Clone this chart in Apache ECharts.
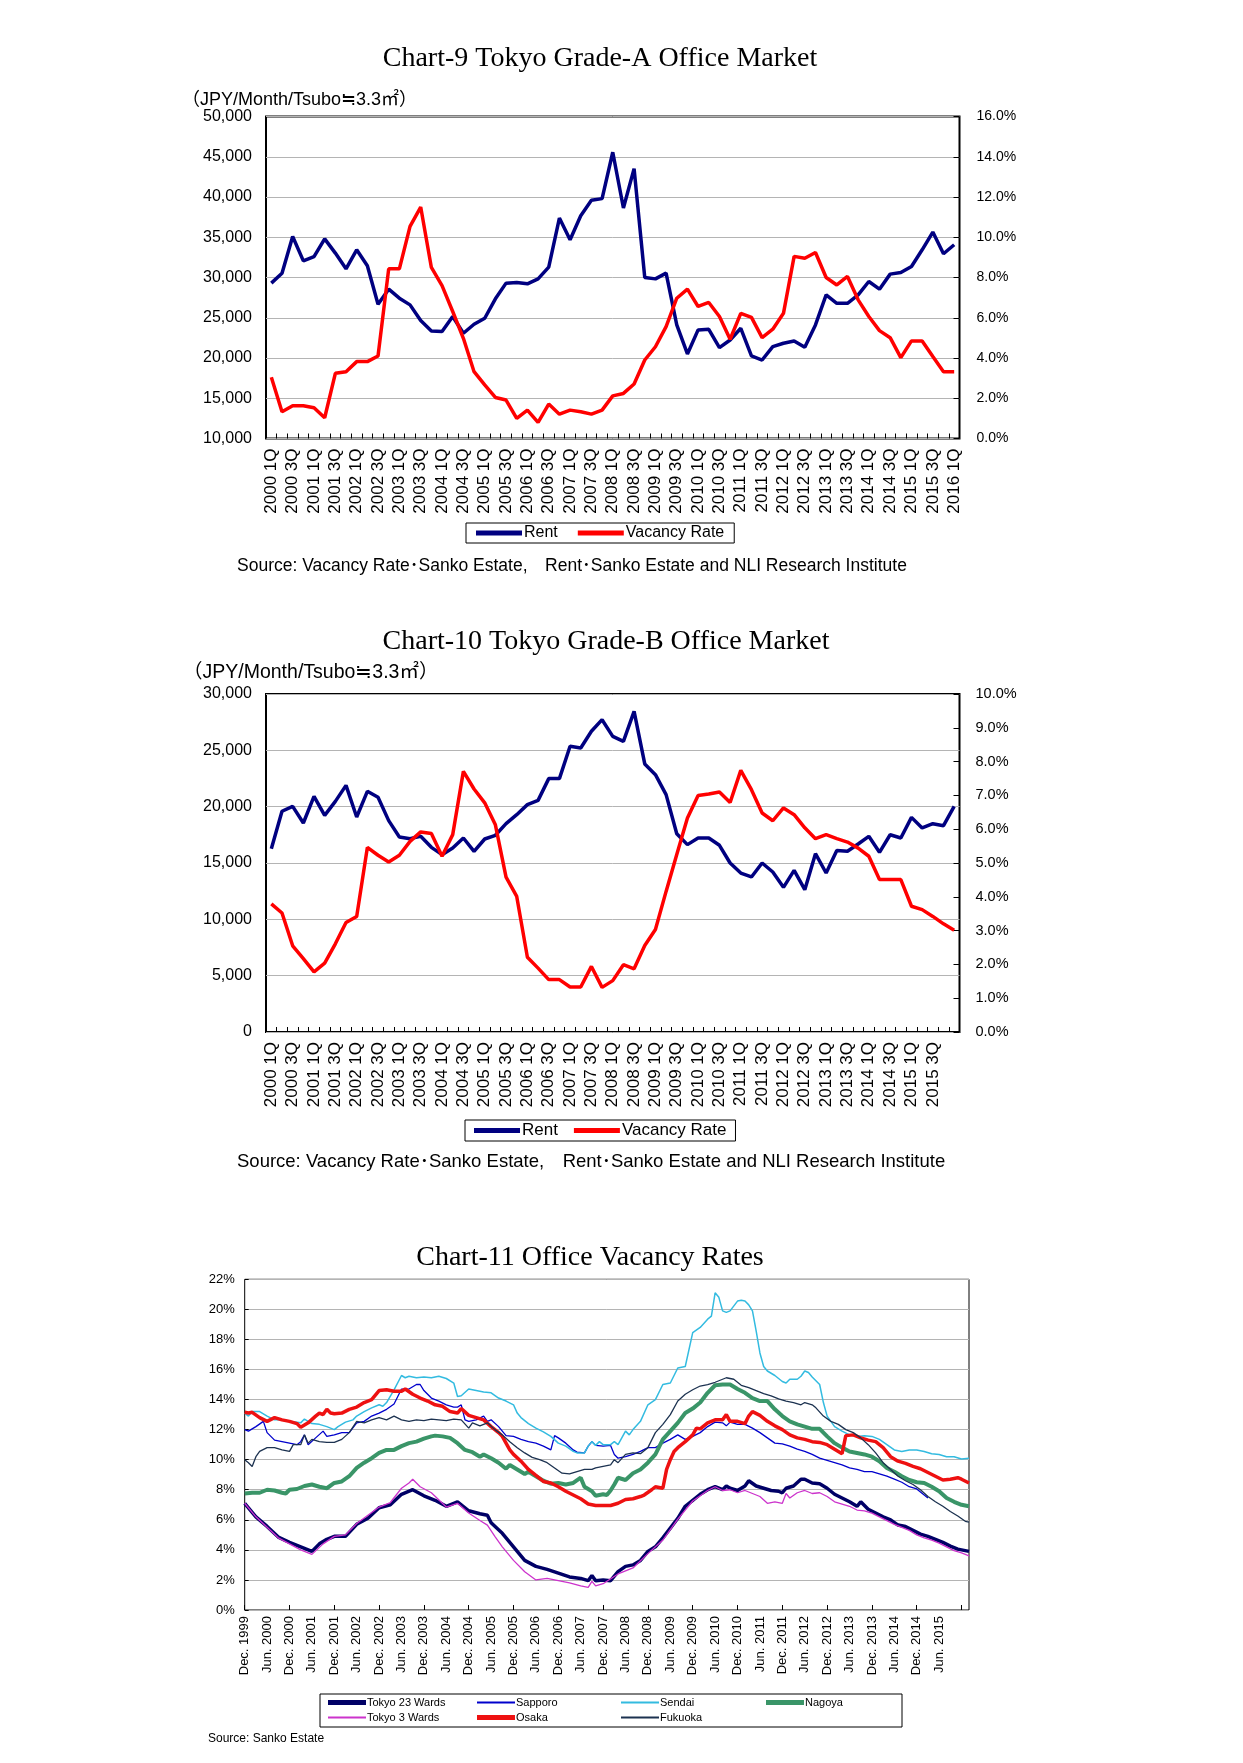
<!DOCTYPE html>
<html><head><meta charset="utf-8">
<script src="https://cdn.jsdelivr.net/npm/echarts@6/dist/echarts.min.js"></script>
<style>html,body{margin:0;padding:0;background:#fff}#c{width:1243px;height:1763px}</style>
</head><body><div id="c"></div>
<script>
// ---------- Chart-9 / Chart-10 : quarterly 2000 1Q .. 2016 1Q ----------
const quarters = [];
for (let y = 2000; y <= 2016; y++) for (let q = 1; q <= 4; q++) if (quarters.length < 65) quarters.push(y + ' ' + q + 'Q');

const rentA = [29300,30540,35100,32070,32600,34800,33030,31080,33440,31450,
  26680,28550,27430,26600,24650,23360,23280,25150,23070,24190,
  24940,27350,29300,29380,29210,29830,31290,37390,34690,37680,
  39590,39800,45560,38630,43530,30000,29830,30540,24110,20500,
  23490,23570,21290,22240,23690,20250,19750,21410,21830,22120,
  21330,24110,27840,26800,26800,27840,29500,28550,30420,30620,
  31370,33440,35640,32950,34070];
const vacancyA = [3.04,1.33,1.63,1.63,1.53,1.03,3.24,3.32,3.82,3.82,
  4.10,8.43,8.43,10.54,11.50,8.50,7.60,6.31,4.98,3.32,
  2.66,2.04,1.91,1.00,1.41,0.80,1.71,1.21,1.41,1.33,
  1.21,1.41,2.12,2.24,2.71,3.90,4.56,5.56,6.97,7.42,
  6.56,6.76,6.06,4.93,6.22,6.02,5.01,5.43,6.22,9.05,
  8.96,9.24,8.00,7.63,8.05,6.89,6.06,5.36,5.01,4.02,
  4.85,4.85,4.07,3.32,3.32];
const rentB = [16270,19590,20030,18550,20920,19230,20470,21890,19080,21360,
  20830,18760,17310,17160,17370,16390,15740,16330,17220,16040,
  17130,17460,18490,19290,20180,20560,22490,22490,25360,25210,
  26690,27720,26240,25800,28460,23790,22840,21070,17600,16630,
  17220,17220,16570,15000,14110,13760,15000,14200,12840,14350,
  12630,15830,14110,16100,16040,16690,17370,15950,17510,17220,
  19050,18110,18490,18310,20030];
const vacancyB = [3.79,3.52,2.55,2.17,1.78,2.04,2.61,3.24,3.42,5.46,
  5.23,5.03,5.23,5.64,5.92,5.87,5.20,5.84,7.71,7.19,
  6.78,6.13,4.58,4.01,2.21,1.89,1.55,1.55,1.33,1.33,
  1.94,1.32,1.52,1.99,1.87,2.56,3.03,4.16,5.25,6.33,
  7.00,7.04,7.10,6.79,7.74,7.17,6.48,6.25,6.63,6.43,
  6.04,5.72,5.84,5.72,5.62,5.44,5.20,4.51,4.51,4.51,
  3.72,3.62,3.42,3.20,3.01];

// ---------- Chart-11 : monthly Dec. 1999 .. Feb. 2016, [monthIndex, %] read points ----------
const monthNames = ['Jan.','Feb.','Mar.','Apr.','May','Jun.','Jul.','Aug.','Sep.','Oct.','Nov.','Dec.'];
const months = [];
for (let k = 0; k < 195; k++) { const mi = (11 + k) % 12; const yr = 1999 + Math.floor((11 + k) / 12); months.push(monthNames[mi] + ' ' + yr); }

const tokyo23 = [[0,7.1],[3,6.2],[6,5.56],[9,4.85],[12,4.5],[15,4.2],[18,3.9],[20,4.4],[22,4.7],[24,4.9],[27,4.9],[30,5.7],[33,6.1],[36,6.8],[39,7.0],[42,7.7],[45,8.0],[48,7.6],[51,7.3],[54,6.9],[57,7.2],[60,6.6],[63,6.4],[65,6.3],[66,5.8],[69,5.1],[72,4.2],[75,3.3],[78,2.9],[81,2.7],[84,2.45],[87,2.2],[90,2.1],[92,1.95],[93,2.3],[94,1.95],[96,2.0],[98,1.95],[100,2.55],[102,2.9],[104,3.0],[106,3.3],[108,3.9],[110,4.2],[112,4.8],[114,5.45],[116,6.1],[118,6.9],[120,7.3],[122,7.7],[124,8.0],[126,8.2],[128,8.0],[129,8.25],[130,8.1],[132,7.95],[134,8.25],[135,8.6],[137,8.25],[139,8.1],[141,7.95],[143,7.9],[144,7.8],[145,8.1],[147,8.25],[149,8.7],[150,8.7],[152,8.45],[154,8.4],[156,8.1],[158,7.7],[160,7.45],[162,7.2],[164,6.9],[165,7.2],[167,6.7],[169,6.45],[171,6.2],[173,6.0],[175,5.65],[177,5.55],[179,5.3],[181,5.05],[183,4.9],[185,4.7],[187,4.5],[189,4.25],[191,4.05],[194,3.9]];
const sapporo = [[0,12.0],[1,11.9],[3,12.2],[5,12.55],[6,11.8],[8,11.3],[10,11.2],[12,11.1],[14,11.0],[15,11.2],[16,11.65],[17,11.0],[19,11.45],[21,11.9],[22,11.55],[24,11.65],[26,11.8],[28,11.8],[30,12.45],[32,12.55],[34,12.9],[36,13.1],[38,13.35],[40,13.7],[42,14.7],[44,14.7],[46,15.0],[47,15.0],[48,14.6],[50,14.1],[52,13.9],[54,13.65],[56,13.5],[57,13.5],[58,13.65],[59,12.65],[60,12.55],[62,12.65],[64,12.9],[65,12.55],[66,12.65],[68,12.2],[70,11.6],[72,11.55],[74,11.35],[76,11.2],[78,11.1],[80,10.9],[82,10.65],[83,11.6],[84,11.45],[86,11.1],[88,10.65],[89,10.5],[91,10.45],[92,10.9],[93,11.2],[94,10.95],[96,10.9],[98,10.95],[99,10.35],[100,10.1],[102,10.2],[104,10.35],[106,10.55],[108,10.8],[110,10.8],[112,11.1],[114,11.35],[116,11.65],[118,11.35],[120,11.55],[122,11.8],[124,12.2],[126,12.5],[128,12.45],[129,12.25],[130,12.5],[132,12.35],[134,12.35],[136,12.1],[138,11.8],[140,11.45],[142,11.1],[144,11.05],[146,10.9],[148,10.7],[150,10.55],[152,10.35],[154,10.1],[156,9.95],[158,9.8],[160,9.65],[162,9.45],[164,9.35],[166,9.2],[168,9.2],[170,9.05],[172,8.9],[174,8.7],[176,8.5],[178,8.2],[180,8.05],[182,7.65],[183,7.45]];
const sendai = [[0,13.1],[1,12.9],[2,13.2],[4,13.2],[6,12.9],[8,12.65],[10,12.65],[12,12.55],[15,12.45],[16,12.7],[18,12.4],[20,12.35],[22,12.2],[24,12.0],[25,12.2],[27,12.5],[29,12.65],[30,12.9],[32,13.2],[34,13.45],[36,13.65],[37,13.55],[38,13.8],[40,14.65],[42,15.6],[43,15.45],[44,15.55],[46,15.45],[48,15.5],[50,15.45],[52,15.55],[54,15.4],[56,15.1],[57,14.2],[58,14.25],[60,14.7],[62,14.6],[64,14.5],[66,14.45],[68,14.1],[70,13.9],[72,13.65],[73,13.1],[74,12.8],[76,12.4],[78,12.1],[80,11.85],[82,11.55],[84,11.1],[86,10.9],[88,10.55],[89,10.45],[91,10.45],[92,10.9],[93,11.2],[94,10.95],[95,11.2],[96,11.0],[98,11.0],[99,11.2],[100,11.0],[101,11.45],[102,11.9],[103,11.65],[104,12.0],[106,12.55],[108,13.65],[110,14.0],[112,15.0],[114,15.1],[116,16.1],[118,16.2],[120,18.45],[122,18.8],[124,19.35],[125,19.55],[126,21.1],[127,20.8],[128,19.9],[129,19.8],[130,19.9],[132,20.55],[133,20.6],[134,20.55],[135,20.3],[136,19.9],[137,18.55],[138,17.1],[139,16.2],[140,15.9],[142,15.6],[144,15.2],[145,15.1],[146,15.35],[148,15.35],[149,15.55],[150,15.9],[151,15.8],[152,15.5],[154,15.0],[155,13.8],[156,12.9],[158,12.2],[160,11.9],[162,11.65],[164,11.55],[166,11.6],[168,11.55],[170,11.35],[172,11.0],[174,10.65],[176,10.55],[178,10.65],[180,10.65],[182,10.55],[184,10.4],[186,10.35],[188,10.2],[190,10.2],[192,10.05],[194,10.1]];
const nagoya = [[0,7.75],[2,7.8],[4,7.8],[6,8.0],[8,7.95],[10,7.8],[11,7.75],[12,8.0],[14,8.05],[16,8.25],[18,8.35],[20,8.2],[22,8.1],[24,8.45],[26,8.55],[28,8.9],[30,9.45],[32,9.8],[34,10.1],[36,10.45],[38,10.65],[40,10.65],[42,10.9],[44,11.1],[46,11.2],[48,11.4],[50,11.55],[51,11.6],[53,11.55],[55,11.45],[57,11.1],[59,10.65],[61,10.5],[63,10.2],[64,10.35],[66,10.1],[68,9.8],[70,9.4],[71,9.65],[73,9.35],[75,9.05],[76,9.2],[78,8.9],[80,8.6],[82,8.4],[84,8.45],[86,8.35],[88,8.45],[90,8.8],[91,8.2],[93,7.9],[94,7.6],[96,7.7],[97,7.65],[98,7.95],[99,8.35],[100,8.8],[102,8.65],[104,9.1],[106,9.35],[108,9.8],[110,10.35],[112,11.35],[114,11.9],[116,12.45],[118,13.1],[120,13.4],[122,13.8],[124,14.45],[126,14.95],[128,15.0],[130,15.0],[132,14.7],[134,14.45],[136,14.1],[138,13.9],[140,13.9],[142,13.35],[144,12.9],[146,12.55],[148,12.35],[150,12.2],[152,12.05],[154,12.05],[156,11.55],[158,11.1],[160,10.8],[162,10.55],[164,10.45],[166,10.35],[168,10.2],[170,9.9],[172,9.45],[174,9.2],[176,8.9],[178,8.65],[180,8.5],[182,8.45],[184,8.2],[186,7.9],[188,7.45],[190,7.2],[192,7.0],[194,6.9]];
const tokyo3 = [[0,7.1],[3,6.2],[6,5.5],[9,4.8],[12,4.4],[15,4.0],[18,3.7],[21,4.4],[24,4.9],[27,5.0],[30,5.75],[33,6.3],[36,6.85],[39,7.15],[42,8.1],[44,8.45],[45,8.7],[47,8.2],[50,7.8],[54,6.85],[57,7.1],[60,6.45],[63,5.95],[65,5.65],[67,4.9],[69,4.2],[72,3.3],[75,2.55],[78,2.0],[81,2.1],[84,1.95],[87,1.8],[90,1.6],[92,1.5],[93,1.9],[94,1.6],[96,1.75],[100,2.4],[104,2.8],[108,3.75],[112,4.65],[116,6.05],[120,7.25],[124,7.95],[126,8.2],[128,7.95],[130,8.0],[132,7.8],[134,7.95],[136,7.75],[138,7.55],[140,7.1],[142,7.2],[144,7.1],[145,7.75],[146,7.45],[148,7.8],[150,7.95],[152,7.75],[154,7.8],[156,7.55],[158,7.2],[160,7.05],[162,6.9],[164,6.65],[166,6.6],[168,6.45],[170,6.2],[172,5.95],[174,5.7],[176,5.5],[178,5.3],[180,5.0],[182,4.8],[184,4.65],[186,4.45],[188,4.2],[190,3.95],[192,3.8],[194,3.6]];
const osaka = [[0,13.15],[1,13.1],[2,13.15],[4,12.8],[6,12.55],[8,12.8],[10,12.65],[12,12.55],[14,12.4],[15,12.15],[17,12.45],[19,12.9],[20,13.1],[21,13.0],[22,13.35],[23,13.1],[24,13.05],[26,13.1],[28,13.35],[30,13.5],[32,13.8],[34,14.0],[36,14.6],[38,14.65],[40,14.55],[42,14.55],[43,14.7],[45,14.35],[47,14.1],[49,13.9],[51,13.65],[53,13.55],[55,13.2],[57,13.1],[58,13.4],[60,12.95],[62,12.8],[64,12.65],[66,12.2],[68,11.8],[69,11.55],[71,10.65],[72,10.35],[74,9.9],[76,9.35],[78,8.95],[80,8.55],[82,8.45],[84,8.2],[86,7.9],[88,7.65],[90,7.4],[92,7.05],[94,6.95],[96,6.95],[98,6.95],[100,7.1],[102,7.35],[104,7.4],[106,7.55],[107,7.65],[109,8.0],[110,8.2],[112,8.1],[113,9.35],[114,10.0],[115,10.55],[116,10.8],[118,11.2],[120,11.65],[121,12.1],[122,12.05],[124,12.45],[126,12.65],[128,12.65],[129,13.0],[130,12.55],[132,12.55],[134,12.4],[135,12.9],[136,13.2],[138,12.95],[140,12.55],[142,12.25],[144,12.0],[146,11.65],[148,11.45],[150,11.35],[152,11.2],[154,11.15],[156,11.0],[158,10.7],[160,10.4],[161,11.6],[163,11.65],[165,11.45],[167,11.3],[169,11.2],[171,10.8],[173,10.2],[175,9.9],[177,9.75],[179,9.55],[181,9.4],[183,9.15],[185,8.9],[187,8.65],[189,8.7],[191,8.8],[192,8.7],[194,8.45]];
const fukuoka = [[0,10.0],[1,9.8],[2,9.55],[3,10.2],[4,10.55],[6,10.8],[8,10.8],[10,10.65],[12,10.55],[13,11.0],[15,11.0],[16,11.65],[17,11.1],[18,11.35],[20,11.2],[22,11.15],[24,11.15],[26,11.35],[28,11.8],[30,12.55],[32,12.45],[34,12.65],[36,12.8],[38,12.65],[40,12.9],[42,12.65],[44,12.55],[46,12.65],[48,12.6],[50,12.7],[52,12.65],[54,12.6],[56,12.7],[58,12.65],[60,12.1],[61,12.45],[63,12.25],[65,12.45],[67,12.0],[69,11.65],[71,11.2],[73,10.8],[75,10.45],[77,10.15],[79,10.0],[81,9.8],[83,9.45],[85,9.1],[87,9.05],[89,9.2],[91,9.35],[93,9.35],[94,9.45],[96,9.55],[98,9.65],[99,10.0],[100,9.8],[102,10.35],[104,10.45],[106,10.4],[108,10.8],[110,11.8],[112,12.35],[114,13.0],[116,13.9],[118,14.35],[120,14.65],[122,14.9],[124,15.0],[126,15.15],[128,15.35],[129,15.45],[131,15.35],[133,14.95],[135,14.8],[137,14.6],[139,14.4],[141,14.25],[143,14.05],[145,13.9],[147,13.8],[149,13.65],[150,13.8],[152,13.65],[153,13.45],[155,12.9],[157,12.55],[159,12.35],[161,12.0],[163,11.8],[165,11.45],[167,11.0],[169,10.45],[171,9.8],[173,9.35],[175,8.9],[177,8.6],[179,8.35],[181,8.0],[183,7.55],[185,7.2],[187,6.9],[189,6.55],[191,6.25],[193,5.9],[194,5.85]];

// ---------- styles ----------
const SANS = 'Liberation Sans, Arial, sans-serif';
const SERIF = 'Liberation Serif, DejaVu Serif, serif';
const CJK = ', Noto Sans CJK JP';
const NAVY = '#000080', RED = '#ff0000';
const fmtThousands = v => v === 0 ? '0' : v.toLocaleString('en-US');

function quarterX(gi, hideLast) {
  return {
    type: 'category', gridIndex: gi, data: quarters, boundaryGap: true,
    axisLine: { show: false },
    axisTick: { show: true, inside: true, length: 5, interval: 0, lineStyle: { color: '#000', width: 1 } },
    axisLabel: { rotate: 90, margin: 10, color: '#000', fontFamily: SANS, fontSize: 17,
      interval: (i) => i % 2 === 0 && (!hideLast || i < 64) }
  };
}

const chart = echarts.init(document.getElementById('c'), null, { renderer: 'canvas' });
const option = {
  backgroundColor: '#fff',
  animation: false,
  grid: [
    { left: 266, top: 116.5, width: 693.5, height: 322, show: true, borderColor: '#000', borderWidth: 2, backgroundColor: 'transparent' },
    { left: 266, top: 694, width: 693.5, height: 338, show: true, borderColor: '#000', borderWidth: 2, backgroundColor: 'transparent' },
    { left: 244.7, top: 1279.3, width: 724.3, height: 330.7, show: true, borderColor: '#000', borderWidth: 1, backgroundColor: 'transparent' }
  ],
  xAxis: [
    quarterX(0, false),
    quarterX(1, true),
    { type: 'category', gridIndex: 2, data: months, boundaryGap: false,
      axisLine: { show: false },
      axisTick: { show: true, inside: true, length: 5, interval: (i) => i % 12 === 0, lineStyle: { color: '#000' } },
      axisLabel: { rotate: 90, margin: 6, color: '#000', fontFamily: SANS, fontSize: 13,
        interval: (i) => i % 6 === 0 && i <= 186 } }
  ],
  yAxis: [
    { type: 'value', gridIndex: 0, min: 10000, max: 50000, interval: 5000,
      axisLine: { show: false }, axisTick: { show: false },
      splitLine: { lineStyle: { color: '#b4b4b4', width: 1 } },
      axisLabel: { formatter: fmtThousands, color: '#000', fontFamily: SANS, fontSize: 16, margin: 14 } },
    { type: 'value', gridIndex: 0, position: 'right', min: 0, max: 16, interval: 2,
      axisLine: { show: false }, axisTick: { show: true, inside: true, length: 6, lineStyle: { color: '#000' } },
      splitLine: { show: false },
      axisLabel: { formatter: v => v.toFixed(1) + '%', color: '#000', fontFamily: SANS, fontSize: 14, margin: 17 } },
    { type: 'value', gridIndex: 1, min: 0, max: 30000, interval: 5000,
      axisLine: { show: false }, axisTick: { show: false },
      splitLine: { lineStyle: { color: '#b4b4b4', width: 1 } },
      axisLabel: { formatter: fmtThousands, color: '#000', fontFamily: SANS, fontSize: 16, margin: 14 } },
    { type: 'value', gridIndex: 1, position: 'right', min: 0, max: 10, interval: 1,
      axisLine: { show: false }, axisTick: { show: true, inside: true, length: 6, lineStyle: { color: '#000' } },
      splitLine: { show: false },
      axisLabel: { formatter: v => v.toFixed(1) + '%', color: '#000', fontFamily: SANS, fontSize: 14.5, margin: 16 } },
    { type: 'value', gridIndex: 2, min: 0, max: 22, interval: 2,
      axisLine: { show: false }, axisTick: { show: true, inside: true, length: 4, lineStyle: { color: '#000' } },
      splitLine: { lineStyle: { color: '#b4b4b4', width: 1 } },
      axisLabel: { formatter: '{value}%', color: '#000', fontFamily: SANS, fontSize: 13, margin: 10 } }
  ],
  legend: [
    { data: [{ name: 'Rent' }, { name: 'Vacancy Rate' }], left: 466, top: 523, orient: 'horizontal',
      icon: 'rect', itemWidth: 46, itemHeight: 5, itemGap: 20, padding: [2, 10, 2, 10],
      borderColor: '#000', borderWidth: 1, textStyle: { fontFamily: SANS, fontSize: 16, color: '#000', padding: [0, 0, 0, -3] } },
    { data: [{ name: 'Rent' }, { name: 'Vacancy Rate' }], left: 465, top: 1120, orient: 'horizontal',
      icon: 'rect', itemWidth: 46, itemHeight: 5, itemGap: 16, padding: [2, 9, 2, 9],
      borderColor: '#000', borderWidth: 1, textStyle: { fontFamily: SANS, fontSize: 17, color: '#000', padding: [0, 0, 0, -3] } },
    ...[
      ['Tokyo 23 Wards', 328, 1697, 5], ['Sapporo', 477, 1697, 2], ['Sendai', 621, 1697, 2], ['Nagoya', 766, 1697, 5],
      ['Tokyo 3 Wards', 328, 1712, 2], ['Osaka', 477, 1712, 5], ['Fukuoka', 621, 1712, 2]
    ].map(([n, x, y, h]) => ({ data: [n], left: x, top: y, icon: 'rect', itemWidth: 38, itemHeight: h,
      padding: 0, textStyle: { fontFamily: SANS, fontSize: 11, color: '#000', padding: [0, 0, 0, -4] } }))
  ],
  series: [
    { name: 'Rent', type: 'line', xAxisIndex: 0, yAxisIndex: 0, data: rentA, symbol: 'none', lineStyle: { color: NAVY, width: 3.5 }, itemStyle: { color: NAVY } },
    { name: 'Vacancy Rate', type: 'line', xAxisIndex: 0, yAxisIndex: 1, data: vacancyA, symbol: 'none', lineStyle: { color: RED, width: 3.5 }, itemStyle: { color: RED } },
    { name: 'Rent', type: 'line', xAxisIndex: 1, yAxisIndex: 2, data: rentB, symbol: 'none', lineStyle: { color: NAVY, width: 3.5 }, itemStyle: { color: NAVY } },
    { name: 'Vacancy Rate', type: 'line', xAxisIndex: 1, yAxisIndex: 3, data: vacancyB, symbol: 'none', lineStyle: { color: RED, width: 3.5 }, itemStyle: { color: RED } },
    { name: 'Tokyo 23 Wards', type: 'line', xAxisIndex: 2, yAxisIndex: 4, data: tokyo23, symbol: 'none', lineStyle: { color: '#000066', width: 3.5 }, itemStyle: { color: '#000066' } },
    { name: 'Sapporo', type: 'line', xAxisIndex: 2, yAxisIndex: 4, data: sapporo, symbol: 'none', lineStyle: { color: '#0000cc', width: 1.3 }, itemStyle: { color: '#0000cc' } },
    { name: 'Sendai', type: 'line', xAxisIndex: 2, yAxisIndex: 4, data: sendai, symbol: 'none', lineStyle: { color: '#33bbe0', width: 1.5 }, itemStyle: { color: '#33bbe0' } },
    { name: 'Nagoya', type: 'line', xAxisIndex: 2, yAxisIndex: 4, data: nagoya, symbol: 'none', lineStyle: { color: '#3a9568', width: 4 }, itemStyle: { color: '#3a9568' } },
    { name: 'Tokyo 3 Wards', type: 'line', xAxisIndex: 2, yAxisIndex: 4, data: tokyo3, symbol: 'none', lineStyle: { color: '#cc33cc', width: 1.3 }, itemStyle: { color: '#cc33cc' } },
    { name: 'Osaka', type: 'line', xAxisIndex: 2, yAxisIndex: 4, data: osaka, symbol: 'none', lineStyle: { color: '#ee1111', width: 3.5 }, itemStyle: { color: '#ee1111' } },
    { name: 'Fukuoka', type: 'line', xAxisIndex: 2, yAxisIndex: 4, data: fukuoka, symbol: 'none', lineStyle: { color: '#1c3250', width: 1.3 }, itemStyle: { color: '#1c3250' } }
  ],
  graphic: [
    { type: 'text', x: 600, y: 59, style: { text: 'Chart-9 Tokyo Grade-A Office Market', font: '28px ' + SERIF, fill: '#000', textAlign: 'center', textVerticalAlign: 'middle', verticalAlign: 'middle' } },
    { type: 'text', x: 182, y: 100, style: { text: '（JPY/Month/Tsubo≒3.3㎡）', font: '18px ' + SANS + CJK, fill: '#000', textVerticalAlign: 'middle', verticalAlign: 'middle' } },
    { type: 'text', x: 237, y: 566, style: { text: 'Source: Vacancy Rate･Sanko Estate,　Rent･Sanko Estate and NLI Research Institute', font: '17.5px ' + SANS + CJK, fill: '#000', textVerticalAlign: 'middle', verticalAlign: 'middle' } },
    { type: 'text', x: 606, y: 642, style: { text: 'Chart-10 Tokyo Grade-B Office Market', font: '28px ' + SERIF, fill: '#000', textAlign: 'center', textVerticalAlign: 'middle', verticalAlign: 'middle' } },
    { type: 'text', x: 183, y: 673, style: { text: '（JPY/Month/Tsubo≒3.3㎡）', font: '19.5px ' + SANS + CJK, fill: '#000', textVerticalAlign: 'middle', verticalAlign: 'middle' } },
    { type: 'text', x: 237, y: 1162, style: { text: 'Source: Vacancy Rate･Sanko Estate,　Rent･Sanko Estate and NLI Research Institute', font: '18.5px ' + SANS + CJK, fill: '#000', textVerticalAlign: 'middle', verticalAlign: 'middle' } },
    { type: 'text', x: 590, y: 1258, style: { text: 'Chart-11 Office Vacancy Rates', font: '28px ' + SERIF, fill: '#000', textAlign: 'center', textVerticalAlign: 'middle', verticalAlign: 'middle' } },
    { type: 'rect', shape: { x: 320, y: 1694, width: 582, height: 33 }, style: { fill: 'none', stroke: '#000', lineWidth: 1 } },
    { type: 'text', x: 208, y: 1739, style: { text: 'Source: Sanko Estate', font: '12px ' + SANS, fill: '#000', textVerticalAlign: 'middle', verticalAlign: 'middle' } }
  ]
};
chart.setOption(option);
</script>
</body></html>
